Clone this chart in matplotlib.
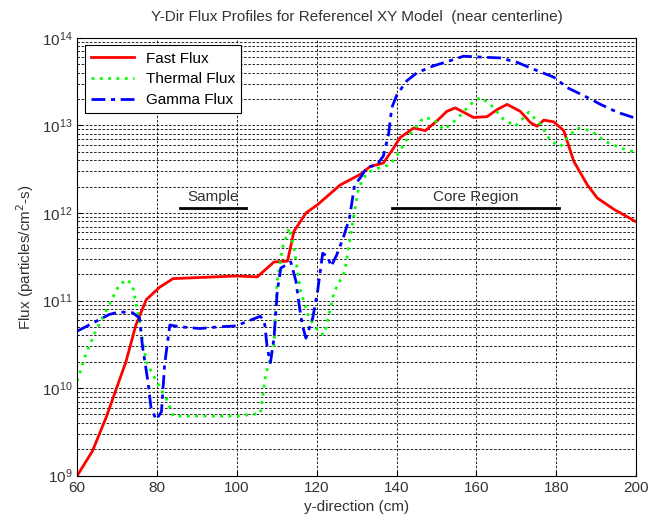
import matplotlib
matplotlib.use("Agg")
import matplotlib.pyplot as plt
import numpy as np

plt.rcParams['font.family'] = ['Liberation Sans', 'DejaVu Sans']

# values (x in cm, log10 of flux)
fast_x = [60, 63.8, 67.2, 72.2, 74.7, 77.3, 80.6, 84.0, 99.8, 105.1, 109.3, 112.7, 114.3,
          117.3, 120.1, 125.9, 130.9, 133.4, 136.7, 138.8, 140.9, 144.3, 147.2, 150.1,
          152.6, 154.7, 156.8, 159.3, 162.7, 165.2, 167.7, 171.0, 173.6, 175.2, 176.9,
          179.4, 181.9, 184.4, 187.8, 190.3, 194.5, 200]
fast_log = [9.0, 9.28, 9.66, 10.30, 10.72, 11.01, 11.15, 11.25, 11.28, 11.27, 11.44, 11.45, 11.79,
            12.00, 12.09, 12.32, 12.44, 12.53, 12.57, 12.71, 12.86, 12.97, 12.94, 13.05,
            13.16, 13.20, 13.15, 13.09, 13.10, 13.18, 13.24, 13.16, 13.03, 12.99, 13.06,
            13.04, 12.94, 12.59, 12.32, 12.17, 12.04, 11.90]

thermal_x = [60, 62.1, 64.6, 68.0, 70.5, 72.6, 73.9, 75.6, 77.3, 79.8, 82.3, 84.0, 89.1,
             99.8, 105.9, 107.2, 109.3, 110.1, 111.4, 113.1, 114.3, 116.0, 118.1, 120.7,
             121.9, 124.4, 127.0, 129.2, 130.5, 132.6, 135.9, 138.4, 140.9, 143.4, 146.8,
             149.3, 151.8, 155.1, 158.5, 161.0, 163.5, 166.8, 169.8, 173.1, 176.1, 178.6,
             181.1, 182.8, 185.3, 188.7, 192.1, 196.3, 200]
thermal_log = [10.08, 10.38, 10.65, 10.95, 11.18, 11.24, 11.16, 10.76, 10.30, 10.08, 9.89, 9.68, 9.68,
               9.68, 9.71, 10.15, 10.49, 11.22, 11.60, 11.83, 11.60, 11.10, 10.80, 10.63,
               10.61, 11.10, 11.33, 11.94, 12.29, 12.46, 12.52, 12.55, 12.71, 12.90, 13.09,
               13.07, 12.95, 13.07, 13.24, 13.32, 13.24, 13.07, 12.99, 13.15, 13.01, 12.82,
               12.76, 12.86, 12.97, 12.94, 12.82, 12.74, 12.69]

gamma_x = [60, 63.8, 68.0, 70.5, 73.9, 75.6, 76.4, 77.7, 78.5, 79.8, 81.1, 81.9, 83.2, 85.7,
           90.7, 95.8, 99.8, 102.5, 105.9, 106.9, 107.6, 108.4, 109.3, 110.1, 111.0, 113.5,
           114.8, 115.6, 116.4, 117.3, 119.0, 120.2, 121.5, 122.8, 123.6, 125.0, 126.6,
           128.2, 129.5, 130.9, 132.6, 135.1, 136.7, 138.0, 138.8, 140.1, 142.6, 145.1,
           149.3, 153.5, 156.8, 161.0, 166.0, 170.2, 174.4, 179.4, 182.8, 186.9, 191.1,
           195.3, 200]
gamma_log = [10.65, 10.74, 10.84, 10.87, 10.86, 10.80, 10.46, 10.08, 9.77, 9.64, 9.73, 10.27, 10.72, 10.70,
             10.68, 10.70, 10.71, 10.76, 10.82, 10.76, 10.46, 10.29, 10.57, 11.10, 11.37, 11.44,
             11.22, 10.95, 10.72, 10.57, 10.80, 11.10, 11.54, 11.50, 11.39, 11.52, 11.71,
             11.94, 12.32, 12.40, 12.52, 12.55, 12.65, 12.90, 13.20, 13.35, 13.51, 13.60,
             13.68, 13.74, 13.79, 13.78, 13.77, 13.72, 13.64, 13.55, 13.43, 13.34, 13.24,
             13.15, 13.08]

sample_span = [85.7, 102.3]
core_span = [138.8, 180.7]
label_level = 1.15e12

fig = plt.figure(figsize=(6.49, 5.25), dpi=100)
ax = fig.add_axes([0.119, 0.094, 0.861, 0.834])

ax.semilogy(fast_x, 10 ** np.array(fast_log), color='#ff0000', lw=2, label='Fast Flux')
ax.semilogy(thermal_x, 10 ** np.array(thermal_log), color='#00ff00', lw=2,
            linestyle=(0, (1, 2)), label='Thermal Flux')
ax.semilogy(gamma_x, 10 ** np.array(gamma_log), color='#0000ff', lw=2,
            linestyle=(0, (5, 2, 1.5, 2)), label='Gamma Flux')

ax.plot(sample_span, [label_level, label_level], color='k', lw=2)
ax.plot(core_span, [label_level, label_level], color='k', lw=2)
ax.text(np.mean(sample_span), label_level * 1.1, 'Sample', ha='center', va='bottom',
        fontsize=11, color='#333333')
ax.text(np.mean(core_span), label_level * 1.1, 'Core Region', ha='center', va='bottom',
        fontsize=11, color='#333333')

ax.set_xlim(60, 200)
ax.set_ylim(1e9, 1e14)
ax.set_xticks(np.arange(60, 201, 20))
ax.grid(True, which='major', axis='both', color='k', linestyle=(0, (3, 2)), lw=0.6)
ax.grid(True, which='minor', axis='y', color='k', linestyle=(0, (3, 2)), lw=0.6)
ax.tick_params(which='both', direction='in', labelsize=11, labelcolor='#333333')
ax.tick_params(which='minor', length=0)

ax.set_title('Y-Dir Flux Profiles for Referencel XY Model  (near centerline)',
             fontsize=11, color='#333333', pad=12)
ax.set_xlabel('y-direction (cm)', fontsize=11, color='#333333')
ax.set_ylabel('Flux (particles/cm$^2$-s)', fontsize=11, color='#333333')

leg = ax.legend(loc='upper left', fontsize=11, fancybox=False, framealpha=1,
                edgecolor='k', borderaxespad=0.5, handlelength=2.8, labelspacing=0.45)
leg.get_frame().set_linewidth(0.8)

plt.savefig('out.png', dpi=100)
plt.close()
